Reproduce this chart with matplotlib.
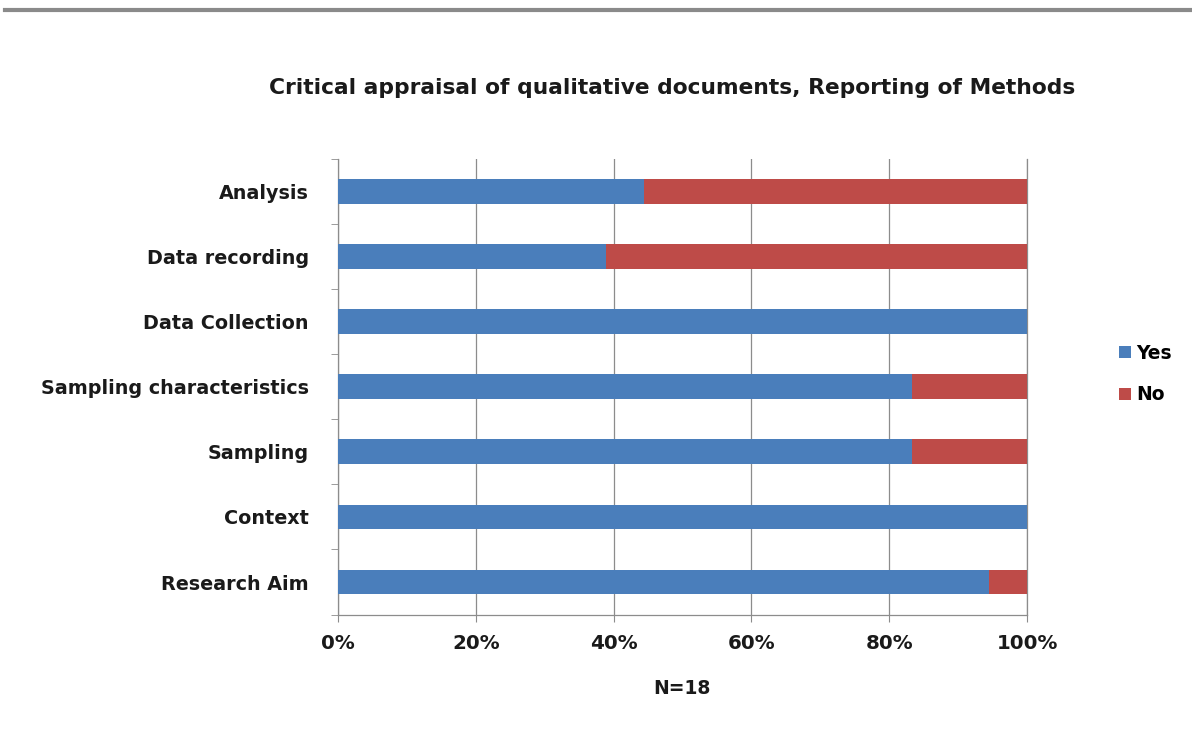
import matplotlib
matplotlib.use("Agg")
import matplotlib.pyplot as plt
from matplotlib.ticker import FuncFormatter
from matplotlib.lines import Line2D

categories = ["Research Aim", "Context", "Sampling", "Sampling characteristics",
              "Data Collection", "Data recording", "Analysis"]
yes_counts = [17, 18, 15, 15, 18, 7, 8]
no_counts = [1, 0, 3, 3, 0, 11, 10]
total_n = 18
x_ticks = [0, 20, 40, 60, 80, 100]

yes_pct = [100 * v / total_n for v in yes_counts]
no_pct = [100 * v / total_n for v in no_counts]

blue = "#4A7EBB"
red = "#BE4B48"
grid_c = "#8c8c8c"

fig = plt.figure(figsize=(11.92, 7.29), dpi=100)
ax = fig.add_axes([0.2836, 0.157, 0.578, 0.625])

y = list(range(len(categories)))
ax.barh(y, yes_pct, height=0.38, color=blue, label="Yes", zorder=3)
ax.barh(y, no_pct, left=yes_pct, height=0.38, color=red, label="No", zorder=3)

ax.set_xlim(0, 100)
ax.set_ylim(-0.5, len(categories) - 0.5)
ax.set_xticks(x_ticks)
ax.xaxis.set_major_formatter(FuncFormatter(lambda v, p: f"{int(v)}%"))
ax.grid(axis="x", color=grid_c, linewidth=0.9, zorder=0)
ax.axvline(100, color=grid_c, linewidth=0.9, zorder=0, clip_on=False)

ax.set_yticks(y)
ax.set_yticklabels(categories)
ax.set_yticks([i - 0.5 for i in range(len(categories) + 1)], minor=True)
ax.tick_params(axis="y", which="major", length=0, pad=21)
ax.tick_params(axis="y", which="minor", length=5, color=grid_c)
ax.tick_params(axis="x", length=5, color=grid_c, pad=9)

for lbl in ax.get_yticklabels():
    lbl.set_fontsize(13.8)
    lbl.set_fontweight("bold")
    lbl.set_color("#1a1a1a")
for lbl in ax.get_xticklabels():
    lbl.set_fontsize(14.3)
    lbl.set_fontweight("bold")
    lbl.set_color("#1a1a1a")

for side in ["top", "right"]:
    ax.spines[side].set_visible(False)
for side in ["left", "bottom"]:
    ax.spines[side].set_color(grid_c)
    ax.spines[side].set_linewidth(0.9)

fig.text(0.564, 0.879, "Critical appraisal of qualitative documents, Reporting of Methods",
         ha="center", va="center", fontsize=15.7, fontweight="bold", color="#1a1a1a")
fig.text(0.572, 0.056, "N=18", ha="center", va="center", fontsize=13.5,
         fontweight="bold", color="#1a1a1a")

handles, labels = ax.get_legend_handles_labels()
fig.legend(handles, labels, loc="center left", bbox_to_anchor=(0.925, 0.487),
           frameon=False, prop={"weight": "bold", "size": 13.5},
           handlelength=0.6, handleheight=0.6, handletextpad=0.3, labelspacing=1.2)

fig.add_artist(Line2D([0.004, 1.0], [0.986, 0.986], transform=fig.transFigure,
                      color="#8a8a8a", linewidth=3))

fig.savefig("out.png", dpi=100)
